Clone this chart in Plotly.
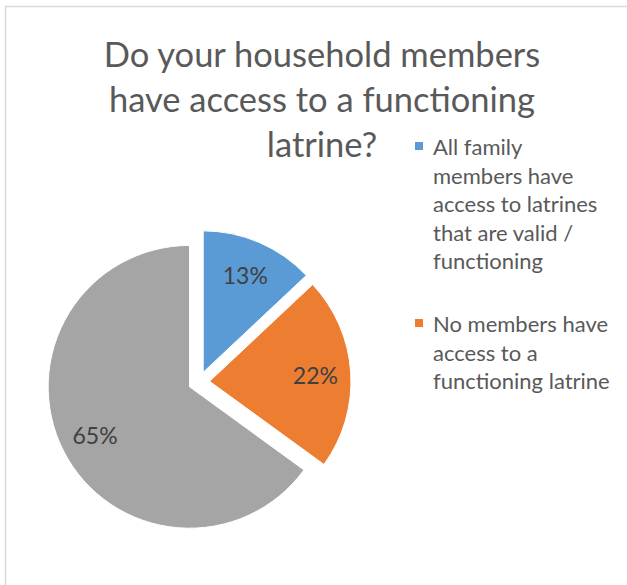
import plotly.graph_objects as go

# Survey answers and their shares (%)
categories = [
    "All family members have access to latrines that are valid / functioning",
    "No members have access to a functioning latrine",
    "Other",
]
values = [13, 22, 65]
colors = ["#5B9BD5", "#ED7D31", "#A5A5A5"]

# Legend entries, wrapped the way they are shown beside the pie
legend_entries = [
    ["All family", "members have", "access to latrines", "that are valid /", "functioning"],
    ["No members have", "access to a", "functioning latrine"],
]

title_lines = ["Do your household members", "have access to a functioning", "latrine?"]

W, H = 627, 585
FONT = "Lato"
TEXT_GREY = "#595959"
PULL = 0.075
DOMAIN = dict(x=[47 / W, 351 / W], y=[1 - 534 / H, 1 - 230 / H])

fig = go.Figure()

# The pie itself
fig.add_trace(go.Pie(
    labels=categories,
    values=values,
    sort=False,
    direction="clockwise",
    rotation=0,
    pull=[PULL] * len(values),
    marker=dict(colors=colors, line=dict(color="white", width=1)),
    textinfo="none",
    domain=DOMAIN,
    showlegend=False,
    hoverinfo="label+percent",
))

# Transparent ring over the pie that carries the percentage labels,
# so they sit about three quarters of the way out along each slice
fig.add_trace(go.Pie(
    labels=categories,
    values=values,
    sort=False,
    direction="clockwise",
    rotation=0,
    hole=0.5,
    pull=[PULL] * len(values),
    marker=dict(colors=["rgba(0,0,0,0)"] * len(values), line=dict(width=0)),
    texttemplate="%{percent:.0%}",
    textposition="inside",
    insidetextorientation="horizontal",
    textfont=dict(family=FONT, size=23, color="#404040"),
    domain=DOMAIN,
    showlegend=False,
    hoverinfo="skip",
))

# Legend drawn beside the pie: coloured square + wrapped caption
legend_tops = [146, 323]  # centre of the first caption line, px from top
line_step = 28.7
shapes = []
annotations = []
for entry, color, top in zip(legend_entries, colors, legend_tops):
    shapes.append(dict(
        type="rect", xref="paper", yref="paper",
        x0=415 / W, x1=423 / W, y0=1 - (top + 4) / H, y1=1 - (top - 4) / H,
        fillcolor=color, line=dict(width=0),
    ))
    centre = top + (len(entry) - 1) * line_step / 2
    annotations.append(dict(
        text="<br>".join(entry), xref="paper", yref="paper",
        x=431 / W, y=1 - centre / H, xanchor="left", yanchor="middle",
        align="left", showarrow=False,
        font=dict(family=FONT, size=22, color=TEXT_GREY),
    ))

# Chart area outline
shapes.append(dict(
    type="rect", xref="paper", yref="paper",
    x0=5.5 / W, x1=1.05, y0=-0.05, y1=1 - 6.5 / H,
    line=dict(color="#D9D9D9", width=1.5), fillcolor="rgba(0,0,0,0)", layer="below",
))

fig.update_layout(
    width=W, height=H,
    margin=dict(l=0, r=0, t=0, b=0),
    paper_bgcolor="white",
    plot_bgcolor="white",
    title=dict(
        text="<br>".join(title_lines),
        x=322 / W, xanchor="center", xref="paper",
        y=1 - 67 / H, yanchor="middle", yref="container",
        font=dict(family=FONT, size=34.5, color=TEXT_GREY, weight=400),
    ),
    shapes=shapes,
    annotations=annotations,
)

fig.write_html("out.html")
